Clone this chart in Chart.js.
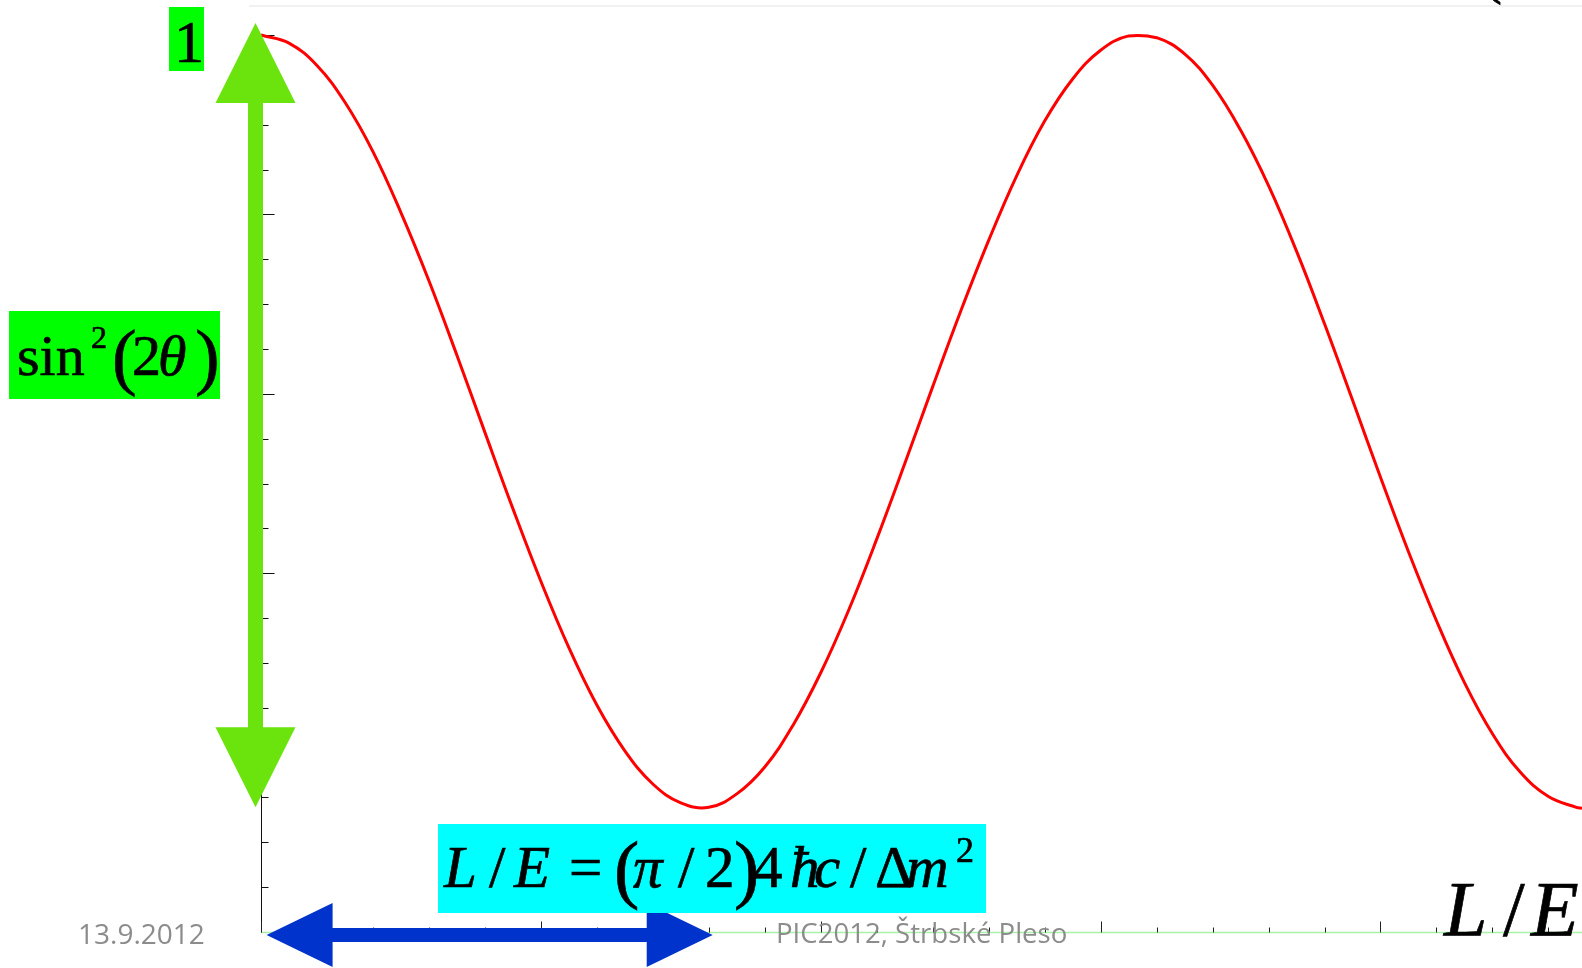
<!DOCTYPE html>
<html>
<head>
<meta charset="utf-8">
<title>sin²(2θ) oscillation</title>
<script src="https://cdn.jsdelivr.net/npm/chart.js@4"></script>
<style>
  html, body { margin: 0; padding: 0; background: #fff; }
  canvas { display: block; }
</style>
</head>
<body>
<canvas id="osc" width="1582" height="968"></canvas>
<script>
(function () {
  // ── survival probability vs L/E ──
  const xs = [
    0.0, 0.1, 0.2, 0.3, 0.4, 0.5, 0.6, 0.7, 0.8, 0.9,
    1.0, 1.1, 1.2, 1.3, 1.4, 1.5, 1.6, 1.7, 1.8, 1.9,
    2.0, 2.1, 2.2, 2.3, 2.4, 2.5, 2.6, 2.7, 2.8, 2.9,
    3.0, 3.1, 3.2, 3.3, 3.4, 3.5, 3.6, 3.7, 3.8, 3.9,
    4.0, 4.1, 4.2, 4.3, 4.4, 4.5, 4.6, 4.7, 4.72
  ];
  const prob = [
    1.000, 0.991, 0.966, 0.925, 0.870, 0.802, 0.726, 0.643, 0.557, 0.472,
    0.391, 0.317, 0.253, 0.202, 0.165, 0.144, 0.139, 0.154, 0.184, 0.230,
    0.289, 0.359, 0.438, 0.522, 0.608, 0.692, 0.771, 0.843, 0.904, 0.951,
    0.983, 0.999, 0.997, 0.979, 0.944, 0.894, 0.832, 0.759, 0.678, 0.593,
    0.507, 0.424, 0.347, 0.278, 0.221, 0.178, 0.151, 0.139, 0.138
  ];

  // ── axis ticks (no labels, just marks) ──
  const yTicks = [0, 0.05, 0.1, 0.15, 0.2, 0.25, 0.3, 0.35, 0.4, 0.45, 0.5,
                  0.55, 0.6, 0.65, 0.7, 0.75, 0.8, 0.85, 0.9, 0.95, 1.0];
  const yMajor = [0, 0.2, 0.4, 0.6, 0.8, 1.0];
  const xTicks = [0, 0.2, 0.4, 0.6, 0.8, 1.0, 1.2, 1.4, 1.6, 1.8, 2.0, 2.2,
                  2.4, 2.6, 2.8, 3.0, 3.2, 3.4, 3.6, 3.8, 4.0, 4.2, 4.4, 4.6];
  const xMajor = [0, 1, 2, 3, 4];

  // blue arrow spans the first minimum, green one the full amplitude
  const halfPeriod = [0.02, 1.614];
  const amplitude = [1.0, 0.138];

  const footerLeft = '13.9.2012';
  const footerMid = 'PIC2012, Štrbské Pleso';

  const SERIF = '"Liberation Serif", "DejaVu Serif", serif';

  // serif glyph with a hairline stroke so it reads as heavy as slide text
  function put(ctx, str, x, y, size, italic) {
    ctx.font = (italic ? 'italic ' : '') + size + 'px ' + SERIF;
    ctx.fillText(str, x, y);
    ctx.lineWidth = 0.7;
    ctx.strokeStyle = ctx.fillStyle;
    ctx.strokeText(str, x, y);
  }

  function arrowV(ctx, x, yTop, yBot, head, half, shaft, color) {
    ctx.fillStyle = color;
    ctx.beginPath();
    ctx.moveTo(x, yTop);
    ctx.lineTo(x + half, yTop + head);
    ctx.lineTo(x + shaft, yTop + head);
    ctx.lineTo(x + shaft, yBot - head);
    ctx.lineTo(x + half, yBot - head);
    ctx.lineTo(x, yBot);
    ctx.lineTo(x - half, yBot - head);
    ctx.lineTo(x - shaft, yBot - head);
    ctx.lineTo(x - shaft, yTop + head);
    ctx.lineTo(x - half, yTop + head);
    ctx.closePath();
    ctx.fill();
  }

  function arrowH(ctx, y, xL, xR, head, half, shaft, color) {
    ctx.fillStyle = color;
    ctx.beginPath();
    ctx.moveTo(xL, y);
    ctx.lineTo(xL + head, y - half);
    ctx.lineTo(xL + head, y - shaft);
    ctx.lineTo(xR - head, y - shaft);
    ctx.lineTo(xR - head, y - half);
    ctx.lineTo(xR, y);
    ctx.lineTo(xR - head, y + half);
    ctx.lineTo(xR - head, y + shaft);
    ctx.lineTo(xL + head, y + shaft);
    ctx.lineTo(xL + head, y + half);
    ctx.closePath();
    ctx.fill();
  }

  const axesPlugin = {
    id: 'axesMarks',
    beforeDatasetsDraw(chart) {
      const { ctx, scales: { x, y } } = chart;
      const x0 = Math.round(x.getPixelForValue(0)) + 0.5;
      const y0 = Math.round(y.getPixelForValue(0)) + 0.5;
      ctx.save();

      // faint rule along the top
      ctx.strokeStyle = '#ececec';
      ctx.lineWidth = 1.5;
      ctx.beginPath();
      ctx.moveTo(249, 6);
      ctx.lineTo(chart.width, 6);
      ctx.stroke();

      // vertical axis
      ctx.strokeStyle = '#111';
      ctx.lineWidth = 1;
      ctx.beginPath();
      ctx.moveTo(x0, y0);
      ctx.lineTo(x0, y.getPixelForValue(1));
      ctx.stroke();
      yTicks.forEach(v => {
        const py = Math.round(y.getPixelForValue(v)) + 0.5;
        const len = yMajor.some(m => Math.abs(m - v) < 1e-6) ? 13 : 7;
        ctx.beginPath();
        ctx.moveTo(x0, py);
        ctx.lineTo(x0 + len, py);
        ctx.stroke();
      });

      // horizontal axis
      ctx.strokeStyle = '#a8f2a8';
      ctx.lineWidth = 1.5;
      ctx.beginPath();
      ctx.moveTo(x0, y0);
      ctx.lineTo(x.right, y0);
      ctx.stroke();
      ctx.strokeStyle = '#222';
      ctx.lineWidth = 1;
      xTicks.forEach(v => {
        const px = Math.round(x.getPixelForValue(v)) + 0.5;
        const len = xMajor.some(m => Math.abs(m - v) < 1e-6) ? 11 : 5;
        ctx.beginPath();
        ctx.moveTo(px, y0);
        ctx.lineTo(px, y0 - len);
        ctx.stroke();
      });
      ctx.restore();
    },
    afterDatasetsDraw(chart) {
      const { ctx, scales: { x, y } } = chart;
      const x0 = x.getPixelForValue(0);
      const y0 = y.getPixelForValue(0);
      ctx.save();
      ctx.textBaseline = 'alphabetic';
      ctx.textAlign = 'left';

      // green double arrow: 1 down to the minimum
      arrowV(ctx, x0 - 5.5,
        y.getPixelForValue(amplitude[0]) - 12,
        y.getPixelForValue(amplitude[1]) - 1,
        80, 40, 7.5, '#6be40e');

      // blue double arrow along the L/E axis
      arrowH(ctx, y0 + 3,
        x.getPixelForValue(halfPeriod[0]),
        x.getPixelForValue(halfPeriod[1]),
        66, 32, 7, '#0033cc');

      // "1" marker
      ctx.fillStyle = '#00ff00';
      ctx.fillRect(169, 7, 35, 64);
      ctx.fillStyle = '#000';
      put(ctx, '1', 174, 62, 60, false);

      // sin²(2θ) label
      ctx.fillStyle = '#00ff00';
      ctx.fillRect(9, 311, 211, 88);
      ctx.fillStyle = '#000';
      put(ctx, 'sin', 17, 375, 58, false);
      put(ctx, '2', 91, 348, 32, false);
      put(ctx, '(', 112, 381, 74, false);
      put(ctx, '2', 132, 375, 58, false);
      put(ctx, 'θ', 158, 375, 58, true);
      put(ctx, ')', 195, 381, 74, false);

      // L/E = (π/2)4ħc/Δm² box
      ctx.fillStyle = '#00ffff';
      ctx.fillRect(438, 824, 548, 89);
      ctx.fillStyle = '#000';
      const bl = 887;
      put(ctx, 'L', 444, bl, 59, true);
      put(ctx, '/', 489, bl, 59, false);
      put(ctx, 'E', 514, bl, 59, true);
      put(ctx, '=', 569, bl, 59, false);
      put(ctx, '(', 614, bl + 7, 76, false);
      put(ctx, 'π', 633, bl, 59, true);
      put(ctx, '/', 678, bl, 59, false);
      put(ctx, '2', 705, bl, 59, false);
      put(ctx, ')', 734, bl + 7, 76, false);
      put(ctx, '4', 753, bl, 59, false);
      put(ctx, 'ħ', 790, bl, 59, true);
      put(ctx, 'c', 814, bl, 59, true);
      put(ctx, '/', 850, bl, 59, false);
      put(ctx, 'Δ', 875, bl, 59, false);
      put(ctx, 'm', 906, bl, 59, true);
      put(ctx, '2', 956, 862, 36, false);

      // axis name
      put(ctx, 'L', 1444, 935, 78, true);
      put(ctx, '/', 1503, 935, 78, false);
      put(ctx, 'E', 1531, 935, 78, true);

      // clipped glyph tail at the top edge
      put(ctx, '(', 1482, -8, 60, false);

      // footer
      ctx.fillStyle = '#8c8c8c';
      ctx.font = '28px "Open Sans", "Liberation Sans", sans-serif';
      ctx.fillText(footerLeft, 78, 944);
      const w = ctx.measureText(footerMid).width;
      const fs = Math.min(30, 28 * 291 / w);
      ctx.font = fs.toFixed(1) + 'px "Open Sans", "Liberation Sans", sans-serif';
      ctx.fillText(footerMid, 776, 943);
      ctx.restore();
    }
  };

  const ctx = document.getElementById('osc').getContext('2d');
  new Chart(ctx, {
    type: 'line',
    data: {
      datasets: [{
        label: 'P',
        data: xs.map((v, i) => ({ x: v, y: prob[i] })),
        borderColor: '#ff0000',
        borderWidth: 3,
        pointRadius: 0,
        tension: 0.4,
        fill: false,
        clip: false
      }]
    },
    options: {
      responsive: false,
      animation: false,
      devicePixelRatio: 1,
      layout: { padding: { left: 261, right: 0, top: 35, bottom: 36 } },
      plugins: { legend: { display: false }, tooltip: { enabled: false } },
      scales: {
        x: { type: 'linear', min: 0, max: 4.72, display: false },
        y: { min: 0, max: 1, display: false }
      }
    },
    plugins: [axesPlugin]
  });
})();
</script>
</body>
</html>
